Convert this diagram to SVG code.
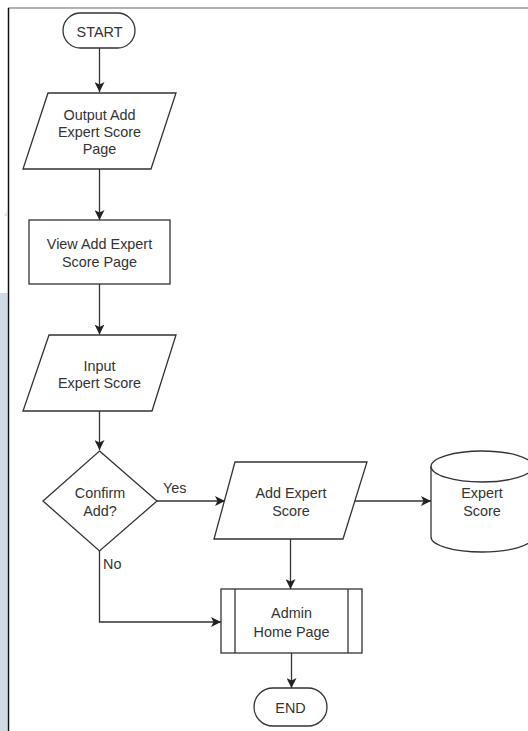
<svg xmlns="http://www.w3.org/2000/svg" width="528" height="731" viewBox="0 0 528 731">
<style>
.s{fill:#fff;stroke:#333;stroke-width:1.3}
.c{fill:none;stroke:#333;stroke-width:1.3}
text{font-family:"Liberation Sans",Arial,sans-serif;font-size:14.4px;fill:#333}
.m{text-anchor:middle}
</style>
<defs>
<marker id="a" markerUnits="userSpaceOnUse" markerWidth="11" markerHeight="10" refX="10" refY="5" orient="auto">
<path d="M0,0 L10,5 L0,10 L2.5,5 z" fill="#222"/>
</marker>
</defs>
<rect width="528" height="731" fill="#fff"/>
<rect x="0" y="293" width="7.5" height="438" fill="#cfdae5"/>
<path d="M4,216 L7,211 L7,216 z" fill="#e3e6ea"/>
<line x1="8" y1="8" x2="528" y2="8" stroke="#666" stroke-width="1.2"/>
<line x1="8.5" y1="8" x2="8.5" y2="731" stroke="#111" stroke-width="1.5"/>

<g id="connectors">
<path class="c" d="M99.5,48 V92" marker-end="url(#a)"/>
<path class="c" d="M99.5,169 V220" marker-end="url(#a)"/>
<path class="c" d="M99.5,284 V334.5" marker-end="url(#a)"/>
<path class="c" d="M99.5,411 V450" marker-end="url(#a)"/>
<path class="c" d="M157,501 H225" marker-end="url(#a)"/>
<path class="c" d="M355,501 H431" marker-end="url(#a)"/>
<path class="c" d="M290.5,539 V589" marker-end="url(#a)"/>
<path class="c" d="M99.5,551 V622 H221" marker-end="url(#a)"/>
<path class="c" d="M291.5,653 V688" marker-end="url(#a)"/>
<text x="163" y="493">Yes</text>
<text x="103" y="569">No</text>
</g>

<g id="start">
<rect class="s" x="63" y="13" width="72" height="35" rx="17.5"/>
<text class="m" x="99.5" y="37">START</text>
</g>

<g id="output-page">
<path class="s" d="M48,93 H176 L151,169 H23 Z"/>
<text class="m" x="99.5" y="120">Output Add</text>
<text class="m" x="99.5" y="137">Expert Score</text>
<text class="m" x="99.5" y="154">Page</text>
</g>

<g id="view-page">
<rect class="s" x="29" y="220" width="141" height="64"/>
<text class="m" x="99.5" y="249">View Add Expert</text>
<text class="m" x="99.5" y="267">Score Page</text>
</g>

<g id="input-score">
<path class="s" d="M49,335 H176 L152,411 H23 Z"/>
<text class="m" x="99.5" y="371">Input</text>
<text class="m" x="99.5" y="388">Expert Score</text>
</g>

<g id="confirm">
<path class="s" d="M99.5,451 L157,501 L99.5,551 L43,501 Z"/>
<text class="m" x="100" y="498">Confirm</text>
<text class="m" x="100" y="516">Add?</text>
</g>

<g id="add-score">
<path class="s" d="M235,462 H367 L343,539 H214 Z"/>
<text class="m" x="291" y="498">Add Expert</text>
<text class="m" x="291" y="516">Score</text>
</g>

<g id="db">
<path class="s" d="M431,466.5 A51,15.5 0 0 1 533,466.5 V537 A51,15 0 0 1 431,537 Z"/>
<path class="c" d="M431,466.5 A51,15.5 0 0 0 533,466.5"/>
<text class="m" x="482" y="498">Expert</text>
<text class="m" x="482" y="516">Score</text>
</g>

<g id="admin-home">
<rect class="s" x="221" y="589" width="141" height="64"/>
<line class="c" x1="235" y1="589" x2="235" y2="653"/>
<line class="c" x1="348" y1="589" x2="348" y2="653"/>
<text class="m" x="291.5" y="618">Admin</text>
<text class="m" x="291.5" y="637">Home Page</text>
</g>

<g id="end">
<rect class="s" x="254" y="688" width="73" height="38" rx="19"/>
<text class="m" x="290.5" y="713">END</text>
</g>
</svg>
